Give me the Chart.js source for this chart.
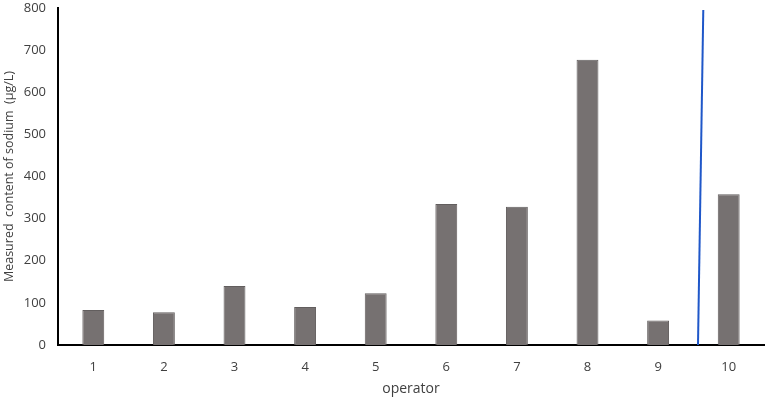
<!DOCTYPE html>
<html>
<head>
<meta charset="utf-8">
<script src="https://cdn.jsdelivr.net/npm/chart.js@4/dist/chart.umd.min.js"></script>
<style>
  body { margin: 0; background: #fff; }
  #wrap { width: 765px; height: 401px; }
</style>
</head>
<body>
<div id="wrap"><canvas id="chart" width="765" height="401"></canvas></div>
<script>
// operators and measured sodium (ug/L)
const operators = ['1', '2', '3', '4', '5', '6', '7', '8', '9', '10'];
const sodium = [83, 78, 140, 90, 123, 335, 328, 677, 58, 358];
const yTicks = [0, 100, 200, 300, 400, 500, 600, 700, 800];
// stray blue stroke, in operator units (1-based) and ug/L
const strokeX = [9.565, 9.64];
const strokeY = [0, 795];

const textColor = '#404040';
const fontFamily = '"Open Sans", "Noto Sans", sans-serif';

new Chart(document.getElementById('chart'), {
    type: 'bar',
    data: {
        labels: operators,
        datasets: [{
            data: sodium,
            backgroundColor: '#767171',
            borderColor: '#625e5e',
            borderWidth: 1,
            grouped: false,
            barPercentage: 0.62,
            categoryPercentage: 0.5,
            xAxisID: 'x',
            order: 2
        }, {
            type: 'line',
            data: strokeX.map((x, i) => ({ x: x, y: strokeY[i] })),
            borderColor: '#1f57c9',
            borderWidth: 2,
            pointRadius: 0,
            fill: false,
            xAxisID: 'x2',
            order: 1
        }]
    },
    options: {
        responsive: false,
        animation: false,
        layout: { padding: { top: 8, right: 1, left: 0, bottom: 0 } },
        plugins: { legend: { display: false }, tooltip: { enabled: false } },
        scales: {
            x: {
                type: 'category',
                grid: { display: false, drawTicks: false },
                border: { color: '#000', width: 2 },
                ticks: { color: textColor, font: { family: fontFamily, size: 13 }, padding: 14 },
                title: { display: true, text: 'operator', color: textColor, font: { family: fontFamily, size: 14 }, padding: { top: 2 } },
                afterFit: s => { s.height = 56; }
            },
            x2: {
                type: 'linear',
                display: false,
                offset: false,
                min: 0.5,
                max: 10.5
            },
            y: {
                min: 0,
                max: 800,
                afterBuildTicks: s => { s.ticks = yTicks.map(v => ({ value: v })); },
                grid: { display: false, drawTicks: false },
                border: { color: '#000', width: 2 },
                ticks: { color: textColor, font: { family: fontFamily, size: 13 }, padding: 12 },
                title: { display: true, text: 'Measured  content of sodium  (μg/L)', color: textColor, font: { family: fontFamily, size: 12.5 }, padding: { top: 2 } },
                afterFit: s => { s.width = 58; s.paddingTop = 0; s.paddingBottom = 0; }
            }
        }
    }
});
</script>
</body>
</html>
